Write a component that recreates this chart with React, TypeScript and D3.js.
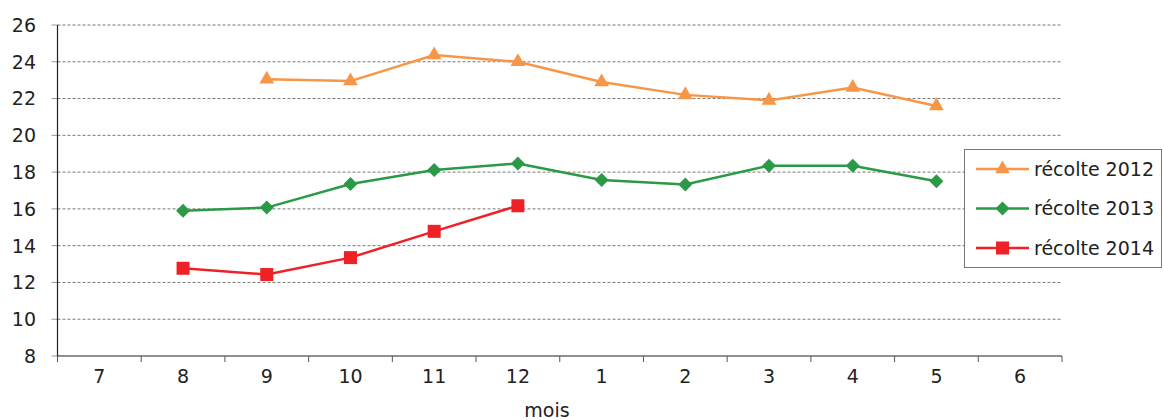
import React from "react";
import * as d3 from "d3";

const categories = ["7", "8", "9", "10", "11", "12", "1", "2", "3", "4", "5", "6"];
const yTicks = [8, 10, 12, 14, 16, 18, 20, 22, 24, 26];
const seriesNames = ["récolte 2012", "récolte 2013", "récolte 2014"];
const values2012: (number | null)[] = [null, null, 23.05, 22.95, 24.37, 24.0, 22.9, 22.2, 21.9, 22.6, 21.6, null];
const values2013: (number | null)[] = [null, 15.9, 16.07, 17.35, 18.12, 18.47, 17.57, 17.33, 18.35, 18.35, 17.5, null];
const values2014: (number | null)[] = [null, 12.77, 12.43, 13.35, 14.78, 16.17, null, null, null, null, null, null];
const colors = ["#F79646", "#2A9A46", "#EE2127"];
const markers = ["triangle", "diamond", "square"];

const W = 1164, H = 420;
const left = 57.5, right = 1062, top = 25, bottom = 356;

function Marker({ type, x, y, color }: { type: string; x: number; y: number; color: string }) {
  if (type === "triangle") {
    const s = d3.symbol(d3.symbolTriangle, 95)();
    return <path d={s as string} transform={`translate(${x},${y})`} fill={color} />;
  }
  if (type === "diamond") {
    const r = 7;
    return <path d={`M${x},${y - r}L${x + r},${y}L${x},${y + r}L${x - r},${y}Z`} fill={color} />;
  }
  return <rect x={x - 6.5} y={y - 6.5} width={13} height={13} fill={color} />;
}

export default function App() {
  const x = d3.scaleBand<string>().domain(categories).range([left, right]);
  const y = d3.scaleLinear().domain([8, 26]).range([bottom, top]);
  const cx = (c: string) => (x(c) as number) + x.bandwidth() / 2;
  const allSeries = [values2012, values2013, values2014];
  const font = "'DejaVu Sans', Verdana, sans-serif";
  const fs = 19;
  const line = d3
    .line<[string, number | null]>()
    .defined((d) => d[1] !== null)
    .x((d) => cx(d[0]))
    .y((d) => y(d[1] as number));

  const bandEdges = categories.map((c) => x(c) as number).concat([right]);

  return (
    <svg width={W} height={H} style={{ position: "absolute", left: 0, top: 0 }} fontFamily={font}>
      <rect width={W} height={H} fill="#fff" />
      {yTicks.map((t) => (
        <g key={t}>
          {t > 8 && (
            <line x1={left} x2={right} y1={y(t)} y2={y(t)} stroke="#777" strokeWidth={1} strokeDasharray="3,2" />
          )}
          <line x1={left - 6} x2={left} y1={y(t)} y2={y(t)} stroke="#999" strokeWidth={1} />
          <text x={36} y={y(t)} dy="0.36em" textAnchor="end" fontSize={fs} fill="#222">
            {t}
          </text>
        </g>
      ))}
      <line x1={left} x2={left} y1={top} y2={bottom} stroke="#222" strokeWidth={1.2} />
      <line x1={left} x2={right} y1={bottom} y2={bottom} stroke="#222" strokeWidth={1.2} />
      {bandEdges.map((e, i) => (
        <line key={i} x1={e} x2={e} y1={bottom} y2={bottom + 6} stroke="#555" strokeWidth={1} />
      ))}
      {categories.map((c) => (
        <text key={c} x={cx(c)} y={bottom + 27} textAnchor="middle" fontSize={fs} fill="#222">
          {c}
        </text>
      ))}
      <text x={547} y={417} textAnchor="middle" fontSize={fs} fill="#222">
        mois
      </text>
      {allSeries.map((vals, si) => {
        const pts = categories.map((c, i) => [c, vals[i]] as [string, number | null]);
        return (
          <g key={si}>
            <path d={line(pts) as string} fill="none" stroke={colors[si]} strokeWidth={2.5} />
            {pts
              .filter((p) => p[1] !== null)
              .map((p) => (
                <Marker key={p[0]} type={markers[si]} x={cx(p[0])} y={y(p[1] as number)} color={colors[si]} />
              ))}
          </g>
        );
      })}
      <rect x={964.5} y={149.5} width={197} height={118} fill="#fff" stroke="#777" strokeWidth={1} />
      {seriesNames.map((n, i) => {
        const ly = 169 + i * 39.5;
        return (
          <g key={n}>
            <line x1={976} x2={1029} y1={ly} y2={ly} stroke={colors[i]} strokeWidth={2.5} />
            <Marker type={markers[i]} x={1002.5} y={ly} color={colors[i]} />
            <text x={1034} y={ly} dy="0.36em" fontSize={fs} fill="#222">
              {n}
            </text>
          </g>
        );
      })}
    </svg>
  );
}
